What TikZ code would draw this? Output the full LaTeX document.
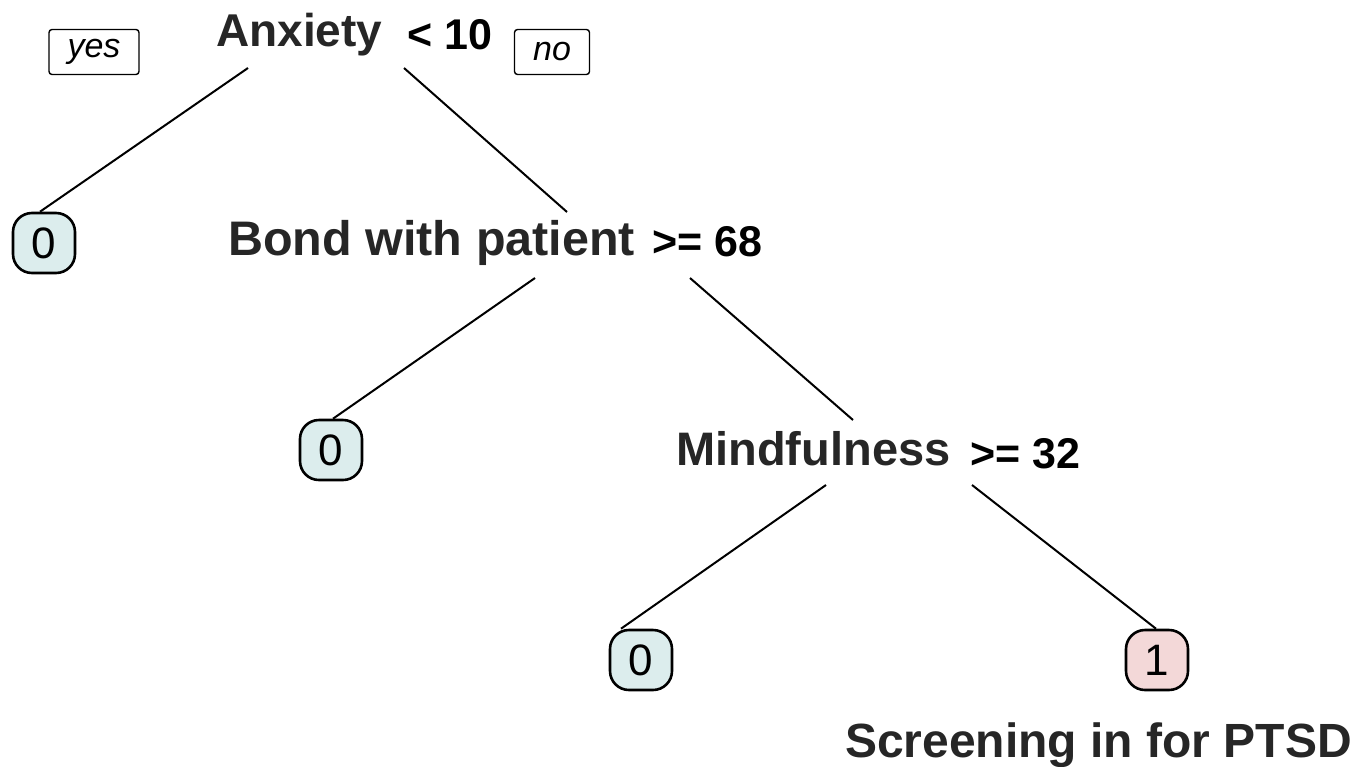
\documentclass[tikz,border=0pt]{standalone}
\usepackage{fontspec}
\setmainfont{Liberation Sans}
\begin{document}
\begin{tikzpicture}[x=1pt,y=-1pt,
  splitlbl/.style={inner sep=0pt,anchor=base west,font=\bfseries\fontsize{46}{50}\selectfont,text=black!85},
  cmplbl/.style={inner sep=0pt,anchor=base west,font=\bfseries\fontsize{43}{48}\selectfont},
  tagbox/.style={draw,line width=1.4pt,rounded corners=3pt,minimum height=45pt,inner sep=0pt,font=\itshape\fontsize{34}{38}\selectfont},
  leaf/.style={draw,line width=2.6pt,rounded corners=19pt,minimum width=62pt,minimum height=60pt,inner sep=0pt,font=\fontsize{44}{48}\selectfont},
  leaf0/.style={leaf,fill={rgb,255:red,220;green,237;blue,237}},
  leaf1/.style={leaf,fill={rgb,255:red,243;green,216;blue,216}},
  edge/.style={line width=2pt}]
\useasboundingbox (0,0) rectangle (1370,766);
\fill[white] (0,0) rectangle (1370,766);

% split labels
\node[splitlbl] (anx) at (216,46) {Anxiety};
\node[cmplbl] (anxc) at (407,49) {< 10};
\node[tagbox,minimum width=90pt] (yes) at (94,52) {yes};
\node[tagbox,minimum width=75pt] (no) at (552,52) {no};

\node[splitlbl,font=\bfseries\fontsize{48.5}{52}\selectfont] (bond) at (228,255) {Bond with patient};
\node[cmplbl] (bondc) at (652,256) {>= 68};

\node[splitlbl,font=\bfseries\fontsize{47}{50}\selectfont] (mind) at (676,465) {Mindfulness};
\node[cmplbl] (mindc) at (970,468) {>= 32};

\node[splitlbl,font=\bfseries\fontsize{48}{52}\selectfont] (ptsd) at (845,757) {Screening in for PTSD};

% leaves
\node[leaf0] (l1) at (44,243) {0};
\node[leaf0] (l2) at (331,450) {0};
\node[leaf0] (l3) at (641,660) {0};
\node[leaf1] (l4) at (1157,660) {1};

% connector endpoints
\coordinate (a1) at (248,68);
\coordinate (b1) at (404,68);
\coordinate (b2) at (567,212);
\coordinate (c1) at (535,278);
\coordinate (d1) at (690,278);
\coordinate (d2) at (853,420);
\coordinate (e1) at (826,485);
\coordinate (f1) at (972,485);

\draw[edge] (a1) -- ([xshift=-4pt]l1.north);
\draw[edge] (b1) -- (b2);
\draw[edge] (c1) -- ([xshift=2pt]l2.north);
\draw[edge] (d1) -- (d2);
\draw[edge] (e1) -- ([xshift=-20pt]l3.north);
\draw[edge] (f1) -- ([xshift=-1pt]l4.north);
\end{tikzpicture}
\end{document}
